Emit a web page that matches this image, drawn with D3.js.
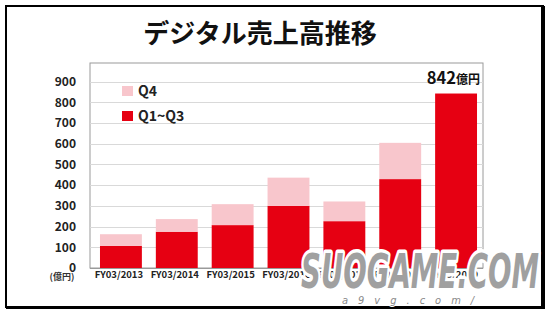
<!DOCTYPE html>
<html>
<head>
<meta charset="utf-8">
<script src="https://cdn.jsdelivr.net/npm/d3@7"></script>
<style>
  body { margin: 0; background: #fff; }
  svg { display: block; }
</style>
</head>
<body>
<div id="chart"></div>
<script>
// data (億円)
var categories = ["FY03/2013", "FY03/2014", "FY03/2015", "FY03/2016", "FY03/2017", "FY03/2018", "FY03/2019"];
var q1q3 = [107, 175, 207, 300, 226, 429, 842];
var q4 = [56, 61, 101, 136, 95, 175, 0];
var yTicks = [0, 100, 200, 300, 400, 500, 600, 700, 800, 900];
var legendItems = [{ key: "Q4", color: "#f8c6cc" }, { key: "Q1~Q3", color: "#e60012" }];

var width = 554, height = 316;
var font = "'Noto Sans CJK JP', 'Noto Sans', sans-serif";
var red = "#e60012", pink = "#f8c6cc";

var svg = d3.select("#chart").append("svg")
    .attr("width", width)
    .attr("height", height)
    .style("font-family", font);

// outer frame
svg.append("rect")
    .attr("x", 6).attr("y", 6)
    .attr("width", 537).attr("height", 301)
    .style("fill", "none")
    .style("stroke", "#000")
    .style("stroke-width", 2);
svg.append("rect").attr("x", 541).attr("y", 6).attr("width", 4).attr("height", 303).style("fill", "#000");
svg.append("rect").attr("x", 6).attr("y", 306).attr("width", 539).attr("height", 3).style("fill", "#000");

// title
svg.append("text")
    .attr("x", 260).attr("y", 43)
    .attr("text-anchor", "middle")
    .style("font-size", "26px")
    .style("font-weight", "bold")
    .style("fill", "#111")
    .text("デジタル売上高推移");

var plot = { left: 90, right: 483, top: 63, bottom: 268 };

var x = d3.scaleBand()
    .domain(categories)
    .range([93, 484])
    .paddingInner(0.25)
    .paddingOuter(0.125);

var y = d3.scaleLinear()
    .domain([0, 900])
    .range([plot.bottom, 81.5]);

// plot box
svg.append("rect")
    .attr("x", plot.left).attr("y", plot.top)
    .attr("width", plot.right - plot.left)
    .attr("height", plot.bottom - plot.top)
    .style("fill", "#fff")
    .style("stroke", "#9a9a9a")
    .style("stroke-width", 1);

// gridlines
svg.append("g").selectAll("line")
    .data(yTicks.slice(1))
    .enter().append("line")
    .attr("x1", plot.left).attr("x2", plot.right)
    .attr("y1", function (d) { return Math.round(y(d)) + 0.5; })
    .attr("y2", function (d) { return Math.round(y(d)) + 0.5; })
    .style("stroke", "#d9d9d9")
    .style("stroke-width", 1);

// y axis labels
var yAxis = d3.axisLeft(y).tickValues(yTicks).tickSize(0).tickPadding(0);
var gy = svg.append("g")
    .attr("transform", "translate(76,0)")
    .call(yAxis);
gy.select(".domain").remove();
gy.selectAll("text")
    .style("font-family", font)
    .style("font-size", "12px")
    .style("font-weight", "bold")
    .style("fill", "#222");

svg.append("text")
    .attr("x", 62).attr("y", 280)
    .attr("text-anchor", "middle")
    .style("font-size", "9px")
    .style("font-weight", "bold")
    .style("fill", "#333")
    .text("(億円)");

// stacked bars
var bars = svg.append("g");
bars.selectAll("rect.base")
    .data(categories)
    .enter().append("rect")
    .attr("class", "base")
    .attr("x", function (d) { return x(d); })
    .attr("width", x.bandwidth())
    .attr("y", function (d, i) { return y(q1q3[i]); })
    .attr("height", function (d, i) { return y(0) - y(q1q3[i]); })
    .style("fill", red);
bars.selectAll("rect.top")
    .data(categories)
    .enter().append("rect")
    .attr("class", "top")
    .attr("x", function (d) { return x(d); })
    .attr("width", x.bandwidth())
    .attr("y", function (d, i) { return y(q1q3[i] + q4[i]); })
    .attr("height", function (d, i) { return y(q1q3[i]) - y(q1q3[i] + q4[i]); })
    .style("fill", pink);

// baseline
svg.append("line")
    .attr("x1", plot.left).attr("x2", plot.right)
    .attr("y1", plot.bottom + 0.5).attr("y2", plot.bottom + 0.5)
    .style("stroke", "#9a9a9a");

// x axis labels
var xAxis = d3.axisBottom(x).tickSize(0).tickPadding(0);
var gx = svg.append("g")
    .attr("transform", "translate(-2," + (plot.bottom + 3) + ")")
    .call(xAxis);
gx.select(".domain").remove();
gx.selectAll("text")
    .style("font-family", font)
    .style("font-size", "9.5px")
    .style("font-weight", "bold")
    .style("fill", "#222");

// total label on last bar
var last = categories[categories.length - 1];
var lbl = svg.append("text")
    .attr("x", x(last) + x.bandwidth() + 3)
    .attr("y", y(q1q3[6] + q4[6]) - 10)
    .attr("text-anchor", "end")
    .style("font-weight", "bold")
    .style("fill", "#111");
lbl.append("tspan").style("font-size", "16.5px").text("842");
lbl.append("tspan").style("font-size", "12px").text("億円");

// legend
var legend = svg.append("g").selectAll("g")
    .data(legendItems)
    .enter().append("g")
    .attr("transform", function (d, i) { return "translate(122," + (86 + i * 25) + ")"; });
legend.append("rect")
    .attr("width", 11).attr("height", 10)
    .style("fill", function (d) { return d.color; });
legend.append("text")
    .attr("x", 16).attr("y", 10)
    .style("font-size", "14px")
    .style("font-weight", "bold")
    .style("fill", "#222")
    .text(function (d) { return d.key; });

// watermark over the lower right corner
var wm = svg.append("g").style("font-family", "'DejaVu Sans Condensed', 'DejaVu Sans', sans-serif");
wm.append("text")
    .attr("x", 301).attr("y", 288)
    .attr("textLength", 238)
    .attr("lengthAdjust", "spacingAndGlyphs")
    .style("font-size", "48px")
    .style("font-weight", "bold")
    .style("font-style", "italic")
    .style("fill", "#a0a0a0")
    .style("stroke", "#fff")
    .style("stroke-width", 7)
    .style("stroke-linejoin", "round")
    .style("paint-order", "stroke")
    .text("SUOGAME.COM");
wm.append("text")
    .attr("x", 342).attr("y", 304)
    .style("font-size", "11px")
    .style("font-style", "italic")
    .style("letter-spacing", "10px")
    .style("fill", "#8a8a8a")
    .style("stroke", "#fff")
    .style("stroke-width", 2)
    .style("paint-order", "stroke")
    .text("a9vg.com/");
</script>
</body>
</html>
